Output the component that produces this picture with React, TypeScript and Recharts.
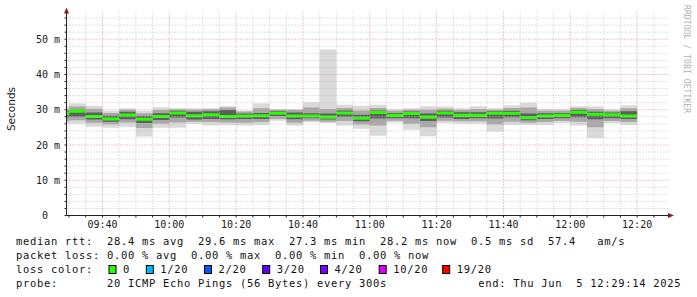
import React from 'react';
import { ComposedChart, Area, XAxis, YAxis, ReferenceLine } from 'recharts';

// 5-minute steps (start of each step); the final step ends at 12:20
const times = ["09:25","09:30","09:35","09:40","09:45","09:50","09:55","10:00","10:05","10:10","10:15","10:20","10:25","10:30","10:35","10:40","10:45","10:50","10:55","11:00","11:05","11:10","11:15","11:20","11:25","11:30","11:35","11:40","11:45","11:50","11:55","12:00","12:05","12:10","12:15"];
const lastEnd = "12:20";

// median rtt (ms)
const median = [28.9, 29.6,28.1,27.4,28.5,27.3,28.1,29.1,28.3,28.6,28.1,28.2,28.3,29.0,28.2,28.2,27.9,29.1,27.6,29.2,28.4,28.9,27.9,29.1,28.4,28.4,29.0,29.0,27.7,28.2,28.4,29.3,28.7,28.6,28.2];
// smoke: min / max of the 20 pings (ms)
const minRtt = [26.0, 26.0,25.2,24.9,25.2,22.4,24.9,24.9,26.0,25.5,25.7,25.5,25.7,26.9,25.5,26.5,26.2,25.5,24.6,22.6,26.4,24.3,22.5,26.2,26.0,26.0,23.8,25.7,25.7,25.7,26.2,25.5,22.0,26.2,25.7];
const maxRtt = [31.0, 31.8,31.1,29.7,30.4,29.7,30.7,30.4,30.4,30.4,31.0,29.8,31.8,30.2,30.2,32.1,47.1,31.4,31.1,31.4,30.1,30.4,31.0,30.9,30.4,31.0,30.4,31.3,32.0,30.2,30.1,31.0,30.9,30.1,31.3];
// inner smoke layers
const p10 = [26.8, 27.0,26.3,25.8,26.4,24.8,26.0,26.4,26.6,26.5,26.4,26.3,26.5,27.4,26.3,26.9,26.6,26.8,25.8,25.5,26.9,26.0,25.0,26.9,26.7,26.7,25.8,26.6,26.3,26.5,26.8,26.6,25.0,26.8,26.5];
const p25 = [27.8, 28.0,27.2,26.6,27.3,26.2,27.1,27.8,27.2,27.4,27.3,27.4,27.4,28.2,27.3,27.6,27.2,28.0,26.7,27.5,27.6,27.6,26.8,27.8,27.4,27.6,27.5,27.9,27.0,27.4,27.6,27.9,27.3,27.6,27.4];
const p75 = [29.5, 30.0,29.2,28.3,29.4,28.2,29.0,29.7,29.4,29.6,29.9,28.9,29.1,29.6,29.2,29.0,28.9,29.8,28.6,29.8,29.1,29.5,28.9,29.7,29.3,29.3,29.6,29.7,28.9,29.0,29.1,29.9,29.4,29.2,29.6];
const p90 = [30.2, 30.9,30.3,29.1,30.0,29.0,29.9,30.1,30.0,30.1,30.6,29.5,30.4,30.0,29.9,30.6,30.2,30.5,29.8,30.5,29.7,30.0,30.0,30.3,29.9,30.2,30.0,30.5,30.6,29.7,29.7,30.5,30.2,29.7,30.4];

// axis / grid tick lists
const startTime = "09:29:14";
const endTime = "12:29:14";
const xLabelTicks = ["09:40","10:00","10:20","10:40","11:00","11:20","11:40","12:00","12:20"];
const xMinorTicks = ["09:30","09:35","09:45","09:50","09:55","10:05","10:10","10:15","10:25","10:30","10:35","10:45","10:50","10:55","11:05","11:10","11:15","11:25","11:30","11:35","11:45","11:50","11:55","12:05","12:10","12:15","12:25"];
const yLabelTicks = [0, 10, 20, 30, 40, 50];
const yMinorTicks = [2,4,6,8,12,14,16,18,22,24,26,28,32,34,36,38,42,44,46,48,52,54,56];
const yMax = 58;

const legendRows = [
  "median rtt:  28.4 ms avg  29.6 ms max  27.3 ms min  28.2 ms now  0.5 ms sd  57.4   am/s",
  "packet loss: 0.00 % avg  0.00 % max  0.00 % min  0.00 % now",
  "loss color:",
  "probe:       20 ICMP Echo Pings (56 Bytes) every 300s",
];
const lossLabels = ["0", "1/20", "2/20", "3/20", "4/20", "10/20", "19/20"];
const lossColors = ["#26ff00", "#00b8ff", "#0059ff", "#5e00ff", "#7e00ff", "#dd00ff", "#ff0000"];
const lossBoxX = [108.5, 145.8, 204, 262.2, 320, 378.7, 442.2];
const endText = "end: Thu Jun  5 12:29:14 2025";

const toMin = (s: string) => {
  const p = s.split(':').map(Number);
  return (p[0] - 9) * 60 + p[1] + (p[2] || 0) / 60;
};
const fmt = (m: number) => {
  const h = 9 + Math.floor(m / 60);
  const mm = Math.round(m % 60);
  return `${String(h).padStart(2, '0')}:${String(mm).padStart(2, '0')}`;
};

const MED_HALF = 0.43;
const rows = times.map((t, i) => ({
  t: toMin(t),
  s0: [minRtt[i], maxRtt[i]],
  s1: [p10[i], p90[i]],
  s2: [p25[i], p75[i]],
  med: [median[i] - MED_HALF, median[i] + MED_HALF],
}));
const li = times.length - 1;
rows.push({ ...rows[li], t: toMin(lastEnd) });

const xTicks = [...xMinorTicks, ...xLabelTicks].map(toMin).sort((a, b) => a - b);
const xLabelSet = new Set(xLabelTicks.map(toMin));
const yTicks = [...yLabelTicks, ...yMinorTicks].sort((a, b) => a - b);

const MONO = '"DejaVu Sans Mono", monospace';

const YTick = (props: any) => {
  const { x, y, payload } = props;
  const v = payload.value;
  if (v % 10 !== 0) return null;
  const label = v === 0 ? '0  ' : `${v} m`;
  return (
    <text x={x} y={y} dy="0.355em" textAnchor="end" fontFamily={MONO} fontSize={10} fill="#1a1a1a" style={{ whiteSpace: 'pre' }}>
      {label}
    </text>
  );
};

const XTick = (props: any) => {
  const { x, y, payload } = props;
  if (!xLabelSet.has(payload.value)) return null;
  return (
    <text x={x} y={y} dy="0.71em" textAnchor="middle" fontFamily={MONO} fontSize={10} fill="#1a1a1a">
      {fmt(payload.value)}
    </text>
  );
};

export default function App() {
  const W = 697, H = 297;
  return (
    <div style={{ position: 'absolute', left: 0, top: 0, width: W, height: H, background: '#fff' }}>
      <ComposedChart width={W} height={H} data={rows} margin={{ top: 11, right: 29, left: 10.5, bottom: 61.5 }}>
        <XAxis
          type="number"
          dataKey="t"
          domain={[toMin(startTime), toMin(endTime)]}
          allowDataOverflow
          ticks={xTicks}
          interval={0}
          tick={<XTick />}
          tickSize={2}
          tickMargin={3}
          height={20}
          stroke="#222"
          tickLine={{ stroke: '#222' }}
        />
        <YAxis
          type="number"
          domain={[0, yMax]}
          allowDataOverflow
          ticks={yTicks}
          interval={0}
          tick={<YTick />}
          tickSize={2}
          tickMargin={4.5}
          width={56}
          stroke="#222"
          tickLine={{ stroke: '#222' }}
        />
        <Area type="stepAfter" dataKey="s0" stroke="none" fill="#dadada" fillOpacity={1} isAnimationActive={false} dot={false} activeDot={false} />
        <Area type="stepAfter" dataKey="s1" stroke="none" fill="#a8a8a8" fillOpacity={1} isAnimationActive={false} dot={false} activeDot={false} />
        <Area type="stepAfter" dataKey="s2" stroke="none" fill="#5e5e5e" fillOpacity={1} isAnimationActive={false} dot={false} activeDot={false} />
        {yMinorTicks.map((v) => (
          <ReferenceLine key={'ym' + v} y={v} stroke="#c4c4c4" strokeDasharray="1 2" ifOverflow="hidden" />
        ))}
        {xMinorTicks.map((v) => (
          <ReferenceLine key={'xm' + v} x={toMin(v)} stroke="#c4c4c4" strokeDasharray="1 2" ifOverflow="hidden" />
        ))}
        {yLabelTicks.filter((v) => v > 0).map((v) => (
          <ReferenceLine key={'yM' + v} y={v} stroke="#e49090" strokeDasharray="1 2" ifOverflow="hidden" />
        ))}
        {xLabelTicks.map((v) => (
          <ReferenceLine key={'xM' + v} x={toMin(v)} stroke="#e49090" strokeDasharray="1 2" ifOverflow="hidden" />
        ))}
        <Area type="stepAfter" dataKey="med" stroke="none" fill="#26ff00" fillOpacity={1} isAnimationActive={false} dot={false} activeDot={false} />
      </ComposedChart>
      <svg width={W} height={H} style={{ position: 'absolute', left: 0, top: 0, pointerEvents: 'none' }}>
        {/* axis arrows */}
        <polygon points="64,13.5 69,13.5 66.5,7.5" fill="#8b1a1a" />
        <polygon points="668,213 668,218 674,215.5" fill="#8b1a1a" />
        {/* y axis title */}
        <text x={0} y={0} transform="translate(15,109) rotate(-90)" textAnchor="middle" fontFamily='"DejaVu Sans", sans-serif' fontSize={10.5} fill="#1a1a1a">
          Seconds
        </text>
        {/* watermark */}
        <text x={0} y={0} transform="translate(684,5) rotate(90)" textAnchor="start" fontFamily={MONO} fontSize={8} fill="#b0b0b0" letterSpacing={0.1}>
          RRDTOOL / TOBI OETIKER
        </text>
        {/* legend */}
        {legendRows.map((r, i) => (
          <text key={i} x={16} y={244.5 + i * 14} fontFamily={MONO} fontSize={10.5} letterSpacing={0.68} fill="#111" style={{ whiteSpace: 'pre' }}>
            {r}
          </text>
        ))}
        {lossLabels.map((l, i) => (
          <g key={l}>
            <rect x={lossBoxX[i] + 0.5} y={265.5} width={7} height={8} fill={lossColors[i]} stroke="#000" strokeWidth={1} />
            <text x={lossBoxX[i] + 14.5} y={272.5} fontFamily={MONO} fontSize={10.5} letterSpacing={0.68} fill="#111">
              {l}
            </text>
          </g>
        ))}
        <text x={478.3} y={286.5} fontFamily={MONO} fontSize={10.5} letterSpacing={0.68} fill="#111" style={{ whiteSpace: 'pre' }}>
          {endText}
        </text>
      </svg>
    </div>
  );
}
